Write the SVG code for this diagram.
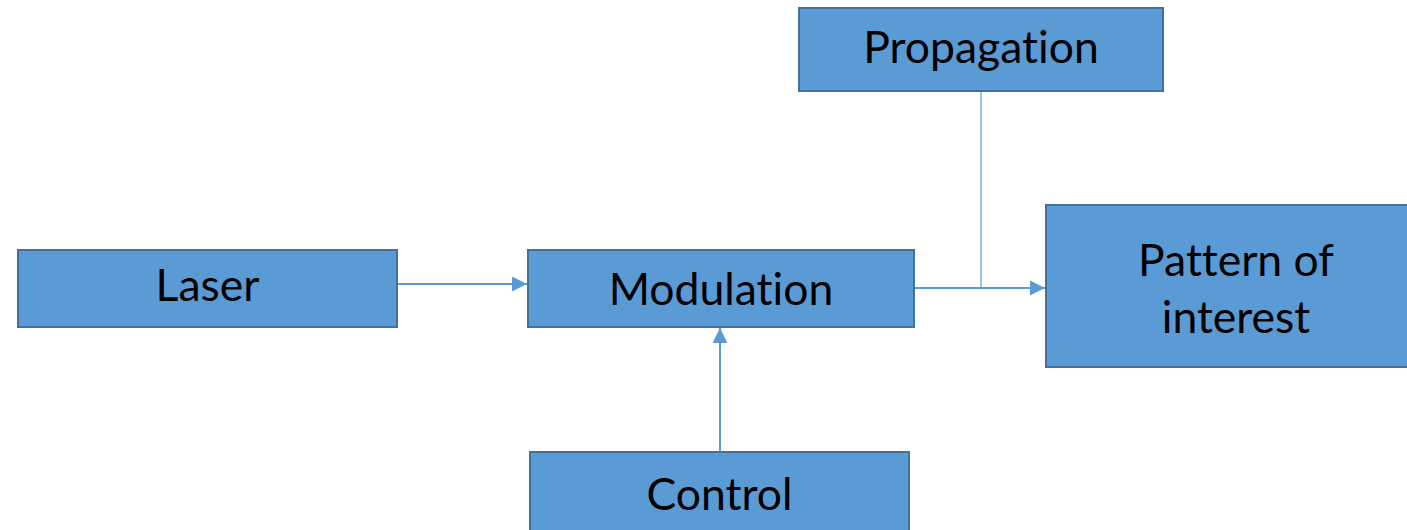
<svg xmlns="http://www.w3.org/2000/svg" width="1407" height="530" viewBox="0 0 1407 530">
<style>
.box{fill:#5B9BD5;stroke:#41719C;stroke-width:2}
.lbl{font-family:Lato,"Open Sans",sans-serif;font-size:44.5px;fill:#000;text-anchor:middle;font-variant-ligatures:none}
.conn{stroke:#5B9BD5;stroke-width:2;fill:none}
.thin{stroke:#5B9BD5;stroke-width:1.2;fill:none}
</style>
<defs>
<marker id="ah" viewBox="0 0 15 15" refX="15" refY="7.5" markerWidth="15" markerHeight="15" markerUnits="userSpaceOnUse" orient="auto">
<path d="M0,0 L15,7.5 L0,15 Z" fill="#5B9BD5"/>
</marker>
</defs>
<g id="connectors">
<line class="conn" x1="397" y1="284" x2="527" y2="284" marker-end="url(#ah)"/>
<line class="conn" x1="915" y1="288" x2="1045" y2="288" marker-end="url(#ah)"/>
<line class="thin" x1="981" y1="91" x2="981" y2="288"/>
<line class="conn" x1="720" y1="452" x2="720" y2="328" marker-end="url(#ah)"/>
</g>
<g id="laser"><rect class="box" x="18" y="250" width="379" height="77"/><text class="lbl" x="207.5" y="301">Laser</text></g>
<g id="modulation"><rect class="box" x="528" y="250" width="386" height="77"/><text class="lbl" x="721" y="305">Modulation</text></g>
<g id="propagation"><rect class="box" x="799" y="8" width="364" height="83"/><text class="lbl" x="981" y="63">Propagation</text></g>
<g id="pattern"><rect class="box" x="1046" y="205" width="370" height="162"/><text class="lbl" x="1236" y="276">Pattern of</text><text class="lbl" x="1236" y="333">interest</text></g>
<g id="control"><rect class="box" x="530" y="452" width="379" height="90"/><text class="lbl" x="719.5" y="510">Control</text></g>
</svg>
